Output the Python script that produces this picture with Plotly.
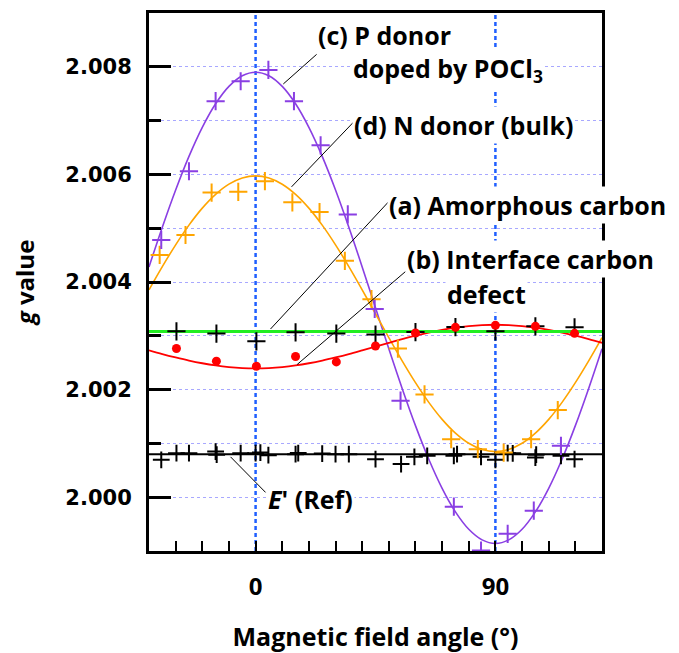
import plotly.graph_objects as go

# ---------------- data ----------------
# fitted curves, sampled every 5 degrees
curve_angle = [-40, -35, -30, -25, -20, -15, -10, -5, 0, 5, 10, 15, 20, 25, 30, 35, 40, 45,
               50, 55, 60, 65, 70, 75, 80, 85, 90, 95, 100, 105, 110, 115, 120, 125, 130]
p_donor_fit = [2.004281, 2.005018, 2.005710, 2.006335, 2.006875, 2.007313, 2.007636, 2.007834,
               2.007900, 2.007834, 2.007636, 2.007313, 2.006875, 2.006335, 2.005710, 2.005018,
               2.004281, 2.003520, 2.002759, 2.002022, 2.001330, 2.000705, 2.000165, 1.999727,
               1.999404, 1.999207, 1.999140, 1.999207, 1.999404, 1.999727, 2.000165, 2.000705,
               2.001330, 2.002022, 2.002759]
n_donor_fit = [2.003855, 2.004286, 2.004691, 2.005057, 2.005373, 2.005629, 2.005818, 2.005933,
               2.005972, 2.005933, 2.005818, 2.005629, 2.005373, 2.005057, 2.004691, 2.004286,
               2.003855, 2.003410, 2.002965, 2.002534, 2.002129, 2.001763, 2.001447, 2.001191,
               2.001002, 2.000887, 2.000848, 2.000887, 2.001002, 2.001191, 2.001447, 2.001763,
               2.002129, 2.002534, 2.002965]
interface_fit = [2.002730, 2.002661, 2.002598, 2.002540, 2.002490, 2.002449, 2.002419, 2.002401,
                 2.002395, 2.002401, 2.002419, 2.002449, 2.002490, 2.002540, 2.002598, 2.002661,
                 2.002730, 2.002800, 2.002870, 2.002939, 2.003003, 2.003060, 2.003110, 2.003151,
                 2.003181, 2.003199, 2.003205, 2.003199, 2.003181, 2.003151, 2.003110, 2.003060,
                 2.003003, 2.002939, 2.002870]

flat_angle = [-40, 130]
amorphous_level = [2.00308, 2.00308]
eprime_level = [2.00080, 2.00080]

# (c) P donor doped by POCl3 - measured
p_angle = [-35.4, -25.0, -15.0, -5.6, 4.8, 14.4, 24.4, 34.6, 44.7, 54.4, 74.4, 84.6, 94.6, 104.4, 114.6]
p_g = [2.004781, 2.006059, 2.007361, 2.007731, 2.007941, 2.007361, 2.006541, 2.005256,
       2.003500, 2.001794, 1.999824, 1.999009, 1.999319, 1.999750, 2.000954]

# (d) N donor (bulk) - measured
n_angle = [-36.0, -26.3, -16.5, -6.5, 3.5, 13.8, 24.0, 33.5, 43.5, 53.4, 63.4, 73.4, 83.4, 93.1, 103.4, 113.4]
n_g = [2.004504, 2.004874, 2.005663, 2.005676, 2.005874, 2.005481, 2.005300, 2.004393,
       2.003681, 2.002763, 2.001911, 2.001078, 2.000893, 2.000830, 2.001078, 2.001620]

# (b) Interface carbon defect - measured
b_angle = [-29.7, -14.7, 0.3, 15.0, 30.3, 45.0, 60.0, 75.0, 90.0, 105.0, 119.7]
b_g = [2.002763, 2.002528, 2.002435, 2.002615, 2.002515, 2.002811, 2.003052, 2.003157,
       2.003194, 2.003176, 2.003046]

# (a) Amorphous carbon - measured
a_angle = [-29.7, -14.7, 0.3, 15.0, 30.3, 45.0, 60.0, 75.0, 90.0, 105.0, 119.7]
a_g = [2.003083, 2.003041, 2.002898, 2.003065, 2.003041, 2.003022, 2.003070, 2.003163,
       2.003083, 2.003176, 2.003157]

# E' (Ref) - measured
e_angle = [-35.4, -29.7, -25.0, -15.0, -14.6, -5.6, 0.0, 1.8, 4.8, 15.0, 16.0, 25.0, 30.0, 35.0,
           45.0, 54.6, 59.6, 64.4, 74.4, 75.6, 84.6, 90.0, 94.6, 96.5, 105.0, 105.3, 114.6, 119.7]
e_g = [2.000694, 2.000818, 2.000818, 2.000848, 2.000790, 2.000818, 2.000818, 2.000830, 2.000781,
       2.000800, 2.000820, 2.000811, 2.000800, 2.000800, 2.000707, 2.000615, 2.000750, 2.000769,
       2.000769, 2.000800, 2.000750, 2.000694, 2.000818, 2.000815, 2.000737, 2.000790, 2.000769,
       2.000707]

x_range = [-40, 130]
y_range = [1.999, 2.009]
x_tick_vals = [0, 90]
x_tick_text = ["0", "90"]
x_minor_vals = [-30, -20, -10, 0, 10, 20, 30, 40, 50, 60, 70, 80, 90, 100, 110, 120]
y_tick_vals = [2.000, 2.002, 2.004, 2.006, 2.008]
y_tick_text = ["2.000", "2.002", "2.004", "2.006", "2.008"]
y_minor_vals = [2.001, 2.003, 2.005, 2.007]
guide_angles = [0, 90]

PURPLE = "#8a3fe3"
ORANGE = "#ffa500"
RED = "#ff0000"
GREEN = "#22ee22"
BLUE = "#1f5fff"
TXT = "Open Sans"

fig = go.Figure()

# vertical guide lines
for ga in guide_angles:
    fig.add_shape(type="line", xref="x", yref="paper", x0=ga, x1=ga, y0=0, y1=1,
                  line=dict(color=BLUE, width=2.5, dash="4px,3px"), layer="below")

fig.add_trace(go.Scatter(x=curve_angle, y=p_donor_fit, mode="lines", line=dict(color=PURPLE, width=1.6, shape="spline"), hoverinfo="skip"))
fig.add_trace(go.Scatter(x=curve_angle, y=n_donor_fit, mode="lines", line=dict(color=ORANGE, width=1.6, shape="spline"), hoverinfo="skip"))
fig.add_trace(go.Scatter(x=curve_angle, y=interface_fit, mode="lines", line=dict(color=RED, width=1.8, shape="spline"), hoverinfo="skip"))
fig.add_trace(go.Scatter(x=flat_angle, y=amorphous_level, mode="lines", line=dict(color=GREEN, width=3), hoverinfo="skip"))
fig.add_trace(go.Scatter(x=flat_angle, y=eprime_level, mode="lines", line=dict(color="black", width=2), hoverinfo="skip"))

cross = lambda c, s: dict(symbol="cross-thin", size=s, color=c, line=dict(color=c, width=2))
fig.add_trace(go.Scatter(x=e_angle, y=e_g, mode="markers", marker=cross("black", 12)))
fig.add_trace(go.Scatter(x=a_angle, y=a_g, mode="markers", marker=cross("black", 13)))
fig.add_trace(go.Scatter(x=b_angle, y=b_g, mode="markers", marker=dict(symbol="circle", size=9, color=RED)))
fig.add_trace(go.Scatter(x=n_angle, y=n_g, mode="markers", marker=cross(ORANGE, 13)))
fig.add_trace(go.Scatter(x=p_angle, y=p_g, mode="markers", marker=cross(PURPLE, 13)))

# labels
afont = dict(family=TXT, size=25, color="black", weight="bold")
labels = [
    (22.6, 2.008583, "(c) P donor"),
    (35.8, 2.007954, "doped by POCl<sub>3</sub>"),
    (36.1, 2.006917, "(d) N donor (bulk)"),
    (49.3, 2.005435, "(a) Amorphous carbon"),
    (56.0, 2.004435, "(b) Interface carbon"),
    (71.0, 2.003769, "defect"),
    (3.9, 1.999972, "<i>E</i>' (Ref)"),
]
for lx, ly, lt in labels:
    fig.add_annotation(x=lx, y=ly, xref="x", yref="y", text=lt, showarrow=False,
                       xanchor="left", yanchor="middle", align="left", font=afont,
                       bgcolor="white", borderpad=1)

# leader lines
leaders = [
    ((22.9, 2.008231), (10.4, 2.007681)),
    ((36.75, 2.006972), (13.5, 2.005769)),
    ((49.9, 2.005491), (5.6, 2.003126)),
    ((56.25, 2.004194), (15.6, 2.002467)),
    ((3.75, 2.000089), (-9.4, 2.000750)),
]
for (x0, y0), (x1, y1) in leaders:
    fig.add_shape(type="line", xref="x", yref="y", x0=x0, y0=y0, x1=x1, y1=y1,
                  line=dict(color="black", width=1))

# the page adds an 8px body margin, so the figure is sized to fit the window
fig.update_layout(
    width=671, height=645,
    margin=dict(l=141, r=77, t=2, b=102),
    paper_bgcolor="white", plot_bgcolor="white",
    showlegend=False,
)
fig.update_xaxes(
    range=x_range, tickmode="array", tickvals=x_tick_vals, ticktext=x_tick_text,
    ticks="inside", ticklen=10, tickwidth=2, tickcolor="black",
    minor=dict(tickvals=x_minor_vals, ticks="inside", ticklen=10, tickwidth=2, tickcolor="black", showgrid=False),
    showgrid=False, zeroline=False, showline=True, linecolor="black", linewidth=3, mirror=True,
    tickfont=dict(family=TXT, size=24, color="black", weight="bold"), ticklabelstandoff=12,
    title=dict(text="Magnetic field angle (°)", font=dict(family=TXT, size=25, color="black", weight="bold"), standoff=32),
)
fig.update_yaxes(
    range=y_range, tickmode="array", tickvals=y_tick_vals, ticktext=y_tick_text,
    ticks="inside", ticklen=22, tickwidth=3, tickcolor="black",
    minor=dict(tickvals=y_minor_vals, ticks="inside", ticklen=12, tickwidth=3, tickcolor="black",
               showgrid=True, gridcolor="#a8a8ff", griddash="dot", gridwidth=1),
    showgrid=True, gridcolor="#a8a8ff", griddash="dot", gridwidth=1,
    zeroline=False, showline=True, linecolor="black", linewidth=3, mirror=True,
    tickfont=dict(family="DejaVu Sans", size=21, color="black", weight="bold"), ticklabelstandoff=10,
    title=dict(text="<i>g</i> value", font=dict(family=TXT, size=24, color="black", weight="bold"), standoff=26),
)

fig.write_html("out.html")
